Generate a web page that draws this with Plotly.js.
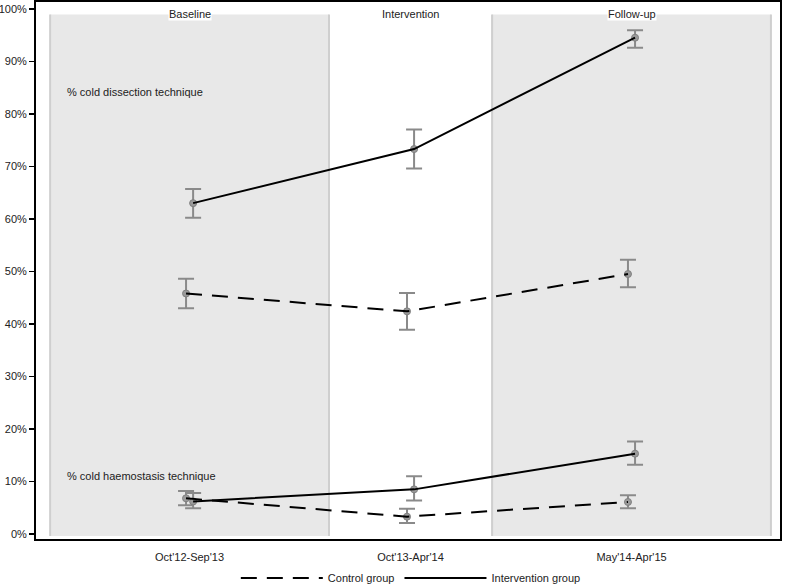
<!DOCTYPE html>
<html><head><meta charset="utf-8">
<script src="https://cdn.plot.ly/plotly-3.0.1.min.js"></script>
<style>body{margin:0;background:#fff}#c{width:787px;height:585px}</style>
</head><body><div id="c"></div>
<script>
const periods = ["Oct'12-Sep'13", "Oct'13-Apr'14", "May'14-Apr'15"];
const phases = ["Baseline", "Intervention", "Follow-up"];
const periodPos = [1, 2, 3];
// % cold dissection technique
const dissControl = [45.8, 42.4, 49.5];
const dissControlLo = [43.0, 38.9, 47.0];
const dissControlHi = [48.6, 45.9, 52.2];
const dissInterv = [63.0, 73.3, 94.5];
const dissIntervLo = [60.2, 69.6, 92.6];
const dissIntervHi = [65.7, 77.0, 95.9];
// % cold haemostasis technique
const haemControl = [6.8, 3.3, 6.1];
const haemControlLo = [5.5, 2.1, 4.9];
const haemControlHi = [8.2, 4.8, 7.4];
const haemInterv = [6.2, 8.5, 15.3];
const haemIntervLo = [4.9, 6.4, 13.2];
const haemIntervHi = [7.8, 11.0, 17.6];

const OFF = 0.016;
const xc = periodPos.map(v => v - OFF);
const xi = periodPos.map(v => v + OFF);
const plus = (v, hi) => v.map((d, i) => +(hi[i] - d).toFixed(2));
const minus = (v, lo) => v.map((d, i) => +(d - lo[i]).toFixed(2));

function errTrace(x, y, lo, hi) {
  return {x: x, y: y, type: 'scatter', mode: 'markers', showlegend: false, hoverinfo: 'skip',
    marker: {size: 7, color: '#9a9a9a', line: {color: '#808080', width: 1}},
    error_y: {type: 'data', symmetric: false, array: plus(y, hi), arrayminus: minus(y, lo),
      color: '#8a8a8a', thickness: 2, width: 8}};
}
function lineTrace(x, y, dash, name, show) {
  return {x: x, y: y, type: 'scatter', mode: 'lines', name: name, showlegend: show,
    line: {color: '#000', width: 2, dash: dash}};
}
const DASH = '16px,10px';
const data = [
  errTrace(xc, dissControl, dissControlLo, dissControlHi),
  errTrace(xi, dissInterv, dissIntervLo, dissIntervHi),
  errTrace(xc, haemControl, haemControlLo, haemControlHi),
  errTrace(xi, haemInterv, haemIntervLo, haemIntervHi),
  lineTrace(xc, dissControl, DASH, 'Control group', true),
  lineTrace(xi, dissInterv, 'solid', 'Intervention group', true),
  lineTrace(xc, haemControl, DASH, 'Control group', false),
  lineTrace(xi, haemInterv, 'solid', 'Intervention group', false)
];

const regions = [[0.369, 1.631], [2.369, 3.631]];
const shapes = [];
regions.forEach(r => {
  shapes.push({type: 'rect', xref: 'x', yref: 'y', x0: r[0], x1: r[1], y0: -0.4, y1: 98.9,
    fillcolor: '#e8e8e8', line: {width: 0}, layer: 'below'});
  r.forEach(xx => shapes.push({type: 'line', xref: 'x', yref: 'y', x0: xx, x1: xx, y0: -0.4, y1: 98.9,
    line: {color: '#cfcfcf', width: 2}, layer: 'below'}));
});

const txt = {family: 'Liberation Sans, Arial, sans-serif', size: 11, color: '#222222'};
const annotations = phases.map((p, i) => ({x: periodPos[i], y: 99.0, xref: 'x', yref: 'y', text: p,
  showarrow: false, font: txt, bgcolor: '#ffffff', borderpad: 0}));
annotations.push({x: 0.437, y: 84.2, xref: 'x', yref: 'y', text: '% cold dissection technique',
  showarrow: false, xanchor: 'left', font: txt});
annotations.push({x: 0.437, y: 11.0, xref: 'x', yref: 'y', text: '% cold haemostasis technique',
  showarrow: false, xanchor: 'left', font: txt});

const layout = {
  width: 787, height: 585,
  margin: {l: 36, r: 7, t: 2, b: 46, autoexpand: false},
  paper_bgcolor: '#fff', plot_bgcolor: '#fff',
  font: txt,
  showlegend: true,
  legend: {orientation: 'h', x: 0.522, xanchor: 'center', xref: 'container', y: 0.012, yanchor: 'middle', yref: 'container',
    font: txt, itemwidth: 82, traceorder: 'normal', bgcolor: 'rgba(0,0,0,0)'},
  xaxis: {range: [0.305, 3.672], tickmode: 'array', tickvals: periodPos, ticktext: periods,
    showgrid: false, zeroline: false, showline: true, linecolor: '#000', linewidth: 2, mirror: true,
    ticks: 'outside', ticklen: 7, tickcolor: 'rgba(0,0,0,0)', tickfont: txt, automargin: false},
  yaxis: {range: [-0.95, 101.3], tickmode: 'array', tickvals: [0,10,20,30,40,50,60,70,80,90,100],
    ticktext: ['0%','10%','20%','30%','40%','50%','60%','70%','80%','90%','100%'],
    showgrid: false, zeroline: false, showline: true, linecolor: '#000', linewidth: 2, mirror: true,
    ticks: 'outside', ticklen: 5, tickwidth: 1.5, tickcolor: '#000', tickfont: txt, automargin: false},
  shapes: shapes,
  annotations: annotations
};
Plotly.newPlot('c', data, layout, {displayModeBar: false, staticPlot: true});
</script></body></html>
